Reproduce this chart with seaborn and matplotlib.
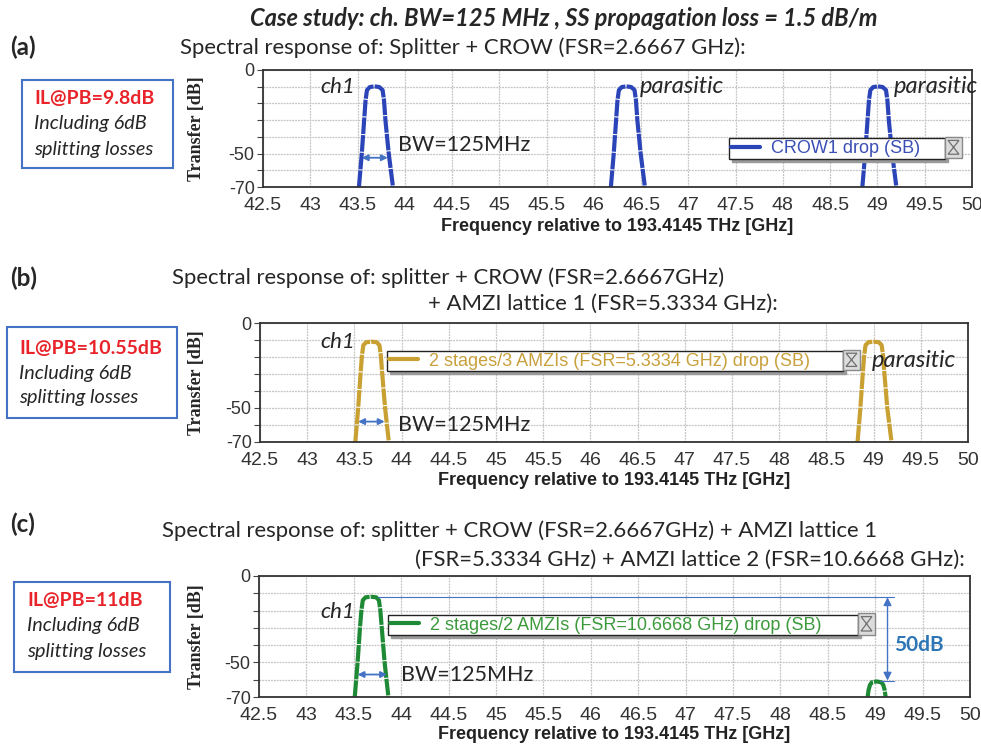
import numpy as np
import pandas as pd
import matplotlib.pyplot as plt
from matplotlib.patches import Rectangle, Polygon
import seaborn as sns

sns.set_style("white")
plt.rcParams["font.family"] = ["Liberation Sans", "DejaVu Sans"]

W, H = 981, 747

# ---- data ----
x_ticks = [42.5, 43, 43.5, 44, 44.5, 45, 45.5, 46, 46.5, 47, 47.5, 48, 48.5, 49, 49.5, 50]
x_tick_labels = ["42.5", "43", "43.5", "44", "44.5", "45", "45.5", "46", "46.5",
                 "47", "47.5", "48", "48.5", "49", "49.5", "50"]
y_ticks = [-70, -60, -50, -40, -30, -20, -10, 0]
y_tick_labels = ["-70", "", "-50", "", "", "", "", "0"]

# (a) splitter + CROW: three passbands
a_ch1_f = [43.515, 43.545, 43.57, 43.585, 43.60, 43.63, 43.68, 43.73, 43.765, 43.78, 43.795, 43.83, 43.875]
a_ch1_db = [-70, -50, -30, -18, -12, -10.2, -9.8, -10.2, -12, -18, -30, -50, -70]
a_par1_f = [46.18, 46.21, 46.235, 46.25, 46.265, 46.295, 46.345, 46.395, 46.43, 46.445, 46.46, 46.495, 46.54]
a_par1_db = [-70, -50, -30, -18, -12, -10.2, -9.8, -10.2, -12, -18, -30, -50, -70]
a_par2_f = [48.84, 48.87, 48.895, 48.91, 48.925, 48.955, 49.005, 49.055, 49.09, 49.105, 49.12, 49.155, 49.20]
a_par2_db = [-70, -50, -30, -18, -12, -10.2, -9.8, -10.2, -12, -18, -30, -50, -70]

# (b) + AMZI lattice 1
b_ch1_f = [43.51, 43.54, 43.565, 43.58, 43.595, 43.625, 43.68, 43.735, 43.765, 43.78, 43.795, 43.825, 43.865]
b_ch1_db = [-70, -50, -30, -19, -13, -11.3, -11, -11.3, -13, -19, -30, -50, -70]
b_par_f = [48.83, 48.86, 48.885, 48.90, 48.915, 48.945, 49.00, 49.055, 49.085, 49.10, 49.115, 49.145, 49.19]
b_par_db = [-70, -50, -30, -19, -13, -11.3, -11, -11.3, -13, -19, -30, -50, -70]

# (c) + AMZI lattice 2
c_ch1_f = [43.51, 43.54, 43.565, 43.58, 43.595, 43.625, 43.68, 43.735, 43.765, 43.78, 43.795, 43.825, 43.865]
c_ch1_db = [-70, -50, -30, -20, -14, -12.3, -12, -12.3, -14, -20, -30, -50, -70]
c_par_f = [48.92, 48.93, 48.945, 48.965, 49.015, 49.065, 49.085, 49.10, 49.11]
c_par_db = [-70, -66, -63, -61.5, -61, -61.5, -63, -66, -70]

rej_top, rej_bottom = -12.3, -60.5   # the 50 dB rejection marker

panels = [
    dict(tag="(a)",
         curves=[(a_ch1_f, a_ch1_db), (a_par1_f, a_par1_db), (a_par2_f, a_par2_db)],
         color="#2b45b8", text_color="#3a4fb5", label="CROW1 drop (SB)",
         rect=(263, 70, 972, 187), leg=(729, 137, 945, 160),
         il="IL@PB=9.8dB", box=(22, 80, 173, 168), il_x=34, il_y=[98, 123, 149],
         tag_y=47,
         title=[(180, 48, "Spectral response of: Splitter + CROW (FSR=2.6667 GHz):")],
         ch1=(43.47, -10), bw_text=(43.93, -45), bw_arrow=(43.545, 43.82, -52.5),
         parasitic=[(46.49, -10), (49.17, -10)], xlab_top=218),
    dict(tag="(b)",
         curves=[(b_ch1_f, b_ch1_db), (b_par_f, b_par_db)],
         color="#c9a032", text_color="#c8a03c",
         label="2 stages/3 AMZIs (FSR=5.3334 GHz) drop (SB)",
         rect=(260, 323, 968, 442), leg=(387, 350, 843, 372),
         il="IL@PB=10.55dB", box=(7, 327, 177, 418), il_x=19, il_y=[348, 373, 398],
         tag_y=278,
         title=[(172, 278, "Spectral response of: splitter + CROW (FSR=2.6667GHz)"),
                (428, 304, "+ AMZI lattice 1 (FSR=5.3334 GHz):")],
         ch1=(43.51, -11.2), bw_text=(43.96, -60), bw_arrow=(43.54, 43.82, -58),
         parasitic=[(48.98, -22)], xlab_top=472),
    dict(tag="(c)",
         curves=[(c_ch1_f, c_ch1_db), (c_par_f, c_par_db)],
         color="#1f8a35", text_color="#3c9a3c",
         label="2 stages/2 AMZIs (FSR=10.6668 GHz) drop (SB)",
         rect=(259, 576, 970, 697), leg=(388, 613, 858, 637),
         il="IL@PB=11dB", box=(14, 582, 170, 672), il_x=27, il_y=[600, 626, 652],
         tag_y=524,
         title=[(162, 531, "Spectral response of: splitter + CROW (FSR=2.6667GHz) + AMZI lattice 1"),
                (415, 560, "(FSR=5.3334 GHz) + AMZI lattice 2 (FSR=10.6668 GHz):")],
         ch1=(43.51, -20.6), bw_text=(44.0, -57), bw_arrow=(43.54, 43.85, -57),
         parasitic=[], xlab_top=726),
]

ann_blue = "#4472c4"
fig = plt.figure(figsize=(W / 100, H / 100), dpi=100)


def fx(x):
    return x / W


def fy(y):
    return 1 - y / H


fig.text(fx(564), fy(18), "Case study: ch. BW=125 MHz , SS propagation loss = 1.5 dB/m",
         family="Lato", weight="bold", style="italic", fontsize=17, ha="center", va="center")

for p in panels:
    x0, y0, x1, y1 = p["rect"]
    ax = fig.add_axes([fx(x0), fy(y1), (x1 - x0) / W, (y1 - y0) / H])

    rows = []
    for i, (f, db) in enumerate(p["curves"]):
        rows.append(pd.DataFrame({"freq": f, "transfer": db, "peak": i}))
    df = pd.concat(rows, ignore_index=True)
    sns.lineplot(data=df, x="freq", y="transfer", units="peak", estimator=None,
                 color=p["color"], lw=3, ax=ax, legend=False, sort=False,
                 solid_capstyle="butt", linestyle=(0, (4, 0.25)))

    ax.set_xlim(42.5, 50)
    ax.set_ylim(-70, 0)
    ax.set_xticks(x_ticks)
    ax.set_xticklabels(x_tick_labels)
    ax.set_yticks(y_ticks)
    ax.set_yticklabels(y_tick_labels)
    ax.tick_params(axis="x", length=0, pad=7, labelsize=14, labelcolor="#333333")
    ax.tick_params(axis="y", length=4, width=0.8, color="#444444", pad=2, labelsize=13,
                   labelcolor="#333333", left=True)
    ax.grid(True, color="#c4c4c4", lw=0.9, linestyle=(0, (1.5, 0.8)))
    for s in ax.spines.values():
        s.set_color("#333333")
        s.set_linewidth(1.3)

    ax.set_xlabel("Frequency relative to 193.4145 THz [GHz]", fontsize=13,
                  weight="bold", color="#222222")
    ax.xaxis.set_label_coords(0.5, -(p["xlab_top"] - y1) / (y1 - y0))
    ax.set_ylabel("Transfer [dB]", family="Liberation Serif", weight="bold", fontsize=13)
    ax.yaxis.set_label_coords(-(x0 - 205) / (x1 - x0), 0.5)

    # legend box + small icon
    lx0, ly0, lx1, ly1 = p["leg"]
    bb = ((lx0 - x0) / (x1 - x0), (y1 - ly1) / (y1 - y0),
          (lx1 - lx0) / (x1 - x0), (ly1 - ly0) / (y1 - y0))
    h = plt.Line2D([], [], color=p["color"], lw=3)
    leg = ax.legend([h], [p["label"]], loc="center", bbox_to_anchor=bb, mode="expand",
                    frameon=True, fancybox=False, shadow=dict(color="#9a9a9a", alpha=1),
                    fontsize=13, labelcolor=p["text_color"], borderpad=0.1,
                    handlelength=1.6, handletextpad=0.6, borderaxespad=0)
    leg.get_frame().set_edgecolor("#222222")
    leg.get_frame().set_linewidth(1.0)
    leg.get_frame().set_alpha(1)
    iw = 17 / (x1 - x0)
    ix = bb[0] + bb[2]
    ax.add_patch(Rectangle((ix, bb[1] + 0.02), iw, bb[3] - 0.02, transform=ax.transAxes,
                           facecolor="#dcdcdc", edgecolor="#8a8a8a", lw=1, clip_on=False, zorder=6))
    cx, cy = ix + iw / 2, bb[1] + bb[3] / 2 + 0.01
    dx, dy = iw * 0.32, bb[3] * 0.3
    ax.add_patch(Polygon([(cx - dx, cy + dy), (cx + dx, cy + dy), (cx - dx, cy - dy),
                          (cx + dx, cy - dy)], closed=True, transform=ax.transAxes,
                         facecolor="none", edgecolor="#707070", lw=0.9, clip_on=False, zorder=7))

    # in-axes annotations
    ax.text(p["ch1"][0], p["ch1"][1], "ch1", family="Lato", style="italic", fontsize=16,
            ha="right", va="center")
    ax.text(p["bw_text"][0], p["bw_text"][1], "BW=125MHz", family="Lato", fontsize=15.5,
            ha="left", va="center")
    ax.annotate("", xy=(p["bw_arrow"][0], p["bw_arrow"][2]),
                xytext=(p["bw_arrow"][1], p["bw_arrow"][2]),
                arrowprops=dict(arrowstyle="<|-|>", color=ann_blue, lw=1.3,
                                mutation_scale=9, shrinkA=0, shrinkB=0))
    for px_, py_ in p["parasitic"]:
        ax.text(px_, py_, "parasitic", family="Lato", style="italic", fontsize=17,
                ha="left", va="center", zorder=8)

    if p["tag"] == "(c)":
        ax.plot([43.75, 49.2], [rej_top, rej_top], color=ann_blue, lw=0.8)
        ax.plot([49.05, 49.2], [rej_bottom, rej_bottom], color=ann_blue, lw=0.8)
        ax.annotate("", xy=(49.13, rej_top), xytext=(49.13, rej_bottom),
                    arrowprops=dict(arrowstyle="<|-|>", color=ann_blue, lw=1.0,
                                    mutation_scale=12, shrinkA=0, shrinkB=0))
        ax.text(49.2, -40, "50dB", family="Lato", weight="bold", fontsize=15,
                color="#2e75b6", ha="left", va="center")

    # panel tag, titles and the IL box
    fig.text(fx(10), fy(p["tag_y"]), p["tag"], family="Lato", weight="bold",
             fontsize=17.5, ha="left", va="center")
    for tx, ty, t in p["title"]:
        fig.text(fx(tx), fy(ty), t, family="Lato", fontsize=15.9, ha="left", va="center")
    bx0, by0, bx1, by1 = p["box"]
    fig.add_artist(Rectangle((fx(bx0), fy(by1)), (bx1 - bx0) / W, (by1 - by0) / H,
                             transform=fig.transFigure, facecolor="white",
                             edgecolor=ann_blue, lw=1.5))
    fig.text(fx(p["il_x"]), fy(p["il_y"][0]), p["il"], family="Lato", weight="bold",
             fontsize=14, color="#e8242a", ha="left", va="center")
    fig.text(fx(p["il_x"]), fy(p["il_y"][1]), "Including 6dB", family="Lato",
             style="italic", fontsize=14.3, ha="left", va="center")
    fig.text(fx(p["il_x"]), fy(p["il_y"][2]), "splitting losses", family="Lato",
             style="italic", fontsize=14.3, ha="left", va="center")

fig.savefig("out.png", dpi=100)
